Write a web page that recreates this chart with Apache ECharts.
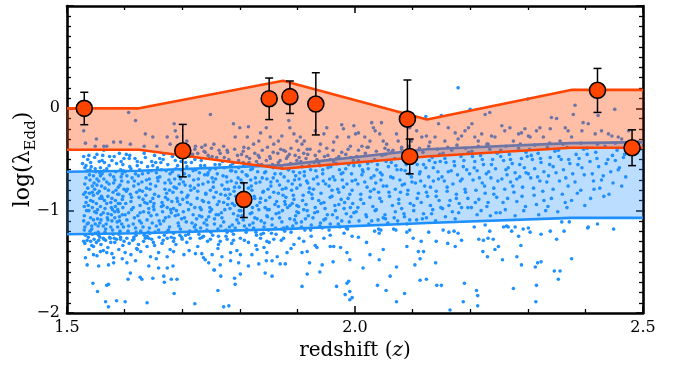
<!DOCTYPE html>
<html><head><meta charset="utf-8">
<script src="https://cdn.jsdelivr.net/npm/echarts/dist/echarts.min.js"></script>
<style>html,body{margin:0;padding:0;background:#fff}#chart{width:681px;height:367px}</style>
</head><body><div id="chart"></div>
<script>
// ---- data ----
const xTicks = [1.5, 2.0, 2.5];
const yTicks = [-2, -1, 0];
const bandZ = [1.5, 1.625, 1.875, 2.125, 2.375, 2.5];
const orangeHi = [0.0, 0.0, 0.27, -0.11, 0.18, 0.18];
const orangeLo = [-0.405, -0.405, -0.59, -0.47, -0.385, -0.385];
const blueHi = [-0.62, -0.61, -0.555, -0.40, -0.34, -0.33];
const blueLo = [-1.23, -1.22, -1.18, -1.12, -1.07, -1.07];

const ptZ = [1.530, 1.701, 1.807, 1.851, 1.887, 1.932, 2.091, 2.095, 2.421, 2.481];
const ptY = [0.00, -0.415, -0.89, 0.094, 0.114, 0.042, -0.105, -0.47, 0.176, -0.385];
const ptLo = [-0.16, -0.67, -1.067, -0.11, -0.05, -0.26, -0.45, -0.64, -0.04, -0.56];
const ptHi = [0.157, -0.157, -0.728, 0.296, 0.267, 0.348, 0.277, -0.30, 0.39, -0.21];

// sample points (z, logλ pairs)
const corePts = [
1.529,-0.47,1.541,-0.53,1.552,-0.45,1.535,-0.61,1.558,-0.58,1.546,-0.66,1.531,-0.74,1.555,-0.71,1.539,-0.83,1.548,-0.79,1.533,-0.92,1.557,-0.88,1.544,-0.97,1.530,-1.05,1.551,-1.02,1.537,-1.12,1.559,-1.09,1.543,-1.18,1.532,-1.24,1.554,-1.21,1.547,-1.28,1.536,-0.50,1.550,-0.62,1.540,-0.70,1.556,-0.81,1.534,-0.87,1.545,-0.91,1.553,-0.99,1.538,-1.00,1.549,-1.13,1.531,-1.16,1.557,-1.26,1.542,-0.57,1.552,-0.75,1.536,-0.78,1.546,-0.85,1.530,-0.96,1.559,-1.04,1.541,-1.07,1.554,-1.15,1.535,-1.29,1.548,-0.48,1.539,-0.65,1.558,-0.66,1.533,-0.56,1.544,-1.23,1.551,-0.93,1.529,-1.10,1.547,-0.73,1.537,-0.95,1.556,-0.52,1.540,-1.20,1.532,-0.82,1.553,-1.08,
1.562,-0.46,1.578,-0.51,1.591,-0.44,1.569,-0.59,1.585,-0.62,1.597,-0.55,1.564,-0.69,1.581,-0.73,1.594,-0.67,1.572,-0.80,1.588,-0.84,1.561,-0.88,1.576,-0.92,1.599,-0.79,1.566,-0.98,1.583,-1.01,1.592,-0.93,1.570,-1.07,1.587,-1.11,1.563,-1.15,1.579,-1.19,1.596,-1.04,1.574,-1.26,1.590,-1.23,1.567,-1.29,1.598,-1.16,1.582,-0.47,1.565,-0.53,1.593,-0.60,1.575,-0.65,1.560,-0.76,1.589,-0.77,1.571,-0.86,1.596,-0.89,1.584,-0.96,1.563,-1.02,1.577,-1.04,1.591,-1.10,1.568,-1.13,1.586,-1.28,1.573,-0.56,1.595,-0.71,1.580,-0.82,1.561,-0.64,1.588,-0.99,1.566,-1.21,1.599,-0.49,1.576,-1.16,1.593,-1.26,1.569,-0.93,1.583,-0.70,1.564,-0.41,1.590,-0.84,1.578,-1.10,1.597,-0.97,
1.603,-0.45,1.618,-0.49,1.634,-0.44,1.647,-0.52,1.609,-0.57,1.626,-0.60,1.641,-0.63,1.613,-0.68,1.630,-0.72,1.645,-0.74,1.605,-0.79,1.621,-0.82,1.637,-0.85,1.649,-0.88,1.611,-0.91,1.627,-0.95,1.642,-0.98,1.607,-1.02,1.623,-1.05,1.639,-1.09,1.615,-1.13,1.632,-1.16,1.648,-1.12,1.606,-1.20,1.620,-1.24,1.636,-1.27,1.644,-1.22,1.601,-0.62,1.616,-0.76,1.629,-0.53,1.643,-0.69,1.612,-0.99,1.625,-0.87,1.638,-0.78,1.650,-0.96,1.604,-1.09,1.619,-1.17,1.633,-1.01,1.646,-1.05,1.610,-0.84,1.624,-0.66,1.640,-0.57,1.608,-0.49,1.628,-1.20,1.614,-1.29,1.635,-0.92,1.647,-0.61,1.602,-0.93,1.622,-0.56,1.631,-0.81,1.617,-1.07,1.643,-1.17,1.606,-0.72,1.639,-1.25,1.626,-1.10,
1.652,-0.46,1.667,-0.50,1.683,-0.47,1.698,-0.52,1.657,-0.58,1.672,-0.61,1.689,-0.59,1.661,-0.67,1.677,-0.70,1.694,-0.66,1.654,-0.76,1.670,-0.79,1.686,-0.77,1.699,-0.82,1.659,-0.86,1.675,-0.89,1.691,-0.88,1.664,-0.96,1.680,-0.99,1.696,-0.94,1.656,-1.04,1.671,-1.07,1.688,-1.05,1.662,-1.13,1.678,-1.16,1.693,-1.12,1.653,-1.21,1.669,-1.24,1.685,-1.22,1.697,-1.18,1.663,-0.53,1.679,-0.64,1.695,-0.74,1.658,-0.71,1.673,-0.83,1.690,-1.00,1.666,-1.01,1.682,-0.91,1.651,-0.93,1.676,-1.19,1.692,-0.56,1.660,-1.10,1.687,-0.69,1.668,-0.45,1.681,-1.26,1.699,-1.08,1.655,-0.63,1.674,-0.97,1.684,-0.82,1.696,-1.24,
1.703,-0.48,1.718,-0.45,1.733,-0.51,1.747,-0.49,1.708,-0.57,1.724,-0.60,1.739,-0.56,1.712,-0.66,1.728,-0.69,1.744,-0.65,1.705,-0.75,1.721,-0.78,1.736,-0.74,1.749,-0.80,1.710,-0.85,1.726,-0.88,1.741,-0.84,1.715,-0.94,1.731,-0.97,1.746,-0.92,1.702,-1.01,1.719,-1.04,1.734,-1.06,1.748,-1.01,1.707,-1.11,1.723,-1.14,1.738,-1.12,1.713,-1.20,1.729,-1.23,1.743,-1.19,1.716,-0.53,1.730,-0.63,1.745,-0.72,1.704,-0.64,1.720,-0.70,1.737,-0.91,1.711,-0.99,1.727,-0.81,1.742,-1.09,1.706,-1.24,1.732,-1.17,1.748,-0.60,1.714,-0.76,1.740,-0.43,1.725,-1.08,1.701,-0.89,1.735,-1.26,1.722,-0.50,
1.752,-0.47,1.766,-0.44,1.781,-0.50,1.796,-0.46,1.757,-0.55,1.773,-0.58,1.788,-0.54,1.761,-0.64,1.777,-0.67,1.793,-0.62,1.754,-0.72,1.769,-0.75,1.785,-0.71,1.799,-0.77,1.759,-0.82,1.775,-0.85,1.790,-0.81,1.764,-0.91,1.779,-0.94,1.795,-0.89,1.751,-0.99,1.768,-1.02,1.783,-0.98,1.797,-1.05,1.756,-1.08,1.772,-1.11,1.787,-1.14,1.762,-1.18,1.778,-1.21,1.792,-1.17,1.753,-1.24,1.770,-0.52,1.786,-0.61,1.758,-0.69,1.774,-0.79,1.791,-0.95,1.763,-1.04,1.780,-0.88,1.798,-1.12,1.755,-0.87,1.767,-1.15,1.784,-0.56,1.794,-0.73,1.760,-0.48,1.776,-1.25,1.789,-1.03,
1.803,-0.45,1.817,-0.49,1.832,-0.46,1.846,-0.51,1.807,-0.56,1.822,-0.59,1.838,-0.55,1.811,-0.65,1.827,-0.68,1.843,-0.63,1.805,-0.73,1.820,-0.76,1.835,-0.72,1.849,-0.79,1.809,-0.83,1.825,-0.86,1.840,-0.82,1.814,-0.92,1.830,-0.95,1.845,-0.90,1.802,-1.00,1.818,-1.03,1.833,-0.99,1.848,-1.06,1.806,-1.09,1.823,-1.12,1.837,-1.10,1.812,-1.18,1.828,-1.21,1.842,-1.16,1.816,-0.53,1.831,-0.62,1.847,-0.69,1.804,-0.62,1.821,-0.80,1.836,-0.88,1.810,-0.96,1.826,-1.07,1.841,-1.22,1.808,-1.15,1.834,-0.48,1.844,-0.97,1.819,-0.70,1.829,-1.24,
1.852,-0.47,1.866,-0.44,1.881,-0.49,1.896,-0.46,1.857,-0.55,1.872,-0.58,1.888,-0.54,1.861,-0.64,1.877,-0.67,1.893,-0.62,1.854,-0.72,1.869,-0.75,1.884,-0.71,1.899,-0.78,1.859,-0.82,1.875,-0.85,1.890,-0.80,1.864,-0.91,1.879,-0.94,1.894,-0.89,1.851,-0.99,1.868,-1.02,1.883,-0.97,1.897,-1.05,1.856,-1.08,1.873,-1.11,1.887,-1.08,1.862,-1.17,1.878,-1.20,1.892,-1.15,1.870,-0.51,1.885,-0.60,1.858,-0.68,1.874,-0.79,1.891,-0.93,1.863,-1.03,1.880,-0.87,1.898,-1.12,1.855,-1.22,1.867,-0.96,1.886,-0.45,1.895,-0.70,
1.903,-0.48,1.918,-0.45,1.934,-0.50,1.947,-0.47,1.908,-0.57,1.923,-0.60,1.939,-0.56,1.912,-0.66,1.928,-0.69,1.944,-0.64,1.905,-0.75,1.921,-0.78,1.936,-0.74,1.910,-0.85,1.926,-0.88,1.941,-0.83,1.915,-0.94,1.931,-0.97,1.946,-0.92,1.902,-1.02,1.919,-1.05,1.935,-1.01,1.949,-1.08,1.907,-1.11,1.924,-1.14,1.940,-1.12,1.913,-1.19,1.929,-0.53,1.945,-0.71,1.904,-0.63,1.920,-0.82,1.937,-0.90,1.911,-0.99,1.927,-1.07,1.943,-1.17,1.916,-0.71,1.932,-0.61,1.948,-0.98,
1.953,-0.46,1.968,-0.49,1.984,-0.45,1.997,-0.51,1.958,-0.57,1.973,-0.60,1.989,-0.55,1.962,-0.67,1.978,-0.70,1.994,-0.64,1.955,-0.76,1.970,-0.79,1.986,-0.74,1.960,-0.86,1.976,-0.89,1.991,-0.84,1.965,-0.95,1.981,-0.98,1.996,-0.93,1.952,-1.04,1.969,-1.07,1.985,-1.03,1.957,-1.13,1.974,-1.16,1.990,-1.11,1.963,-0.52,1.979,-0.63,1.995,-0.80,1.956,-0.69,1.972,-0.82,1.987,-1.18,1.966,-1.00,1.982,-0.92,1.998,-1.02,
2.003,-0.47,2.018,-0.44,2.034,-0.50,2.047,-0.46,2.008,-0.56,2.023,-0.59,2.039,-0.55,2.012,-0.65,2.028,-0.68,2.044,-0.63,2.005,-0.74,2.021,-0.77,2.036,-0.73,2.010,-0.84,2.026,-0.87,2.041,-0.82,2.015,-0.93,2.031,-0.96,2.046,-0.91,2.002,-1.01,2.019,-1.04,2.035,-1.00,2.049,-1.07,2.007,-1.10,2.024,-1.13,2.040,-1.09,2.029,-0.52,2.045,-0.70,2.013,-0.60,2.033,-0.79,
2.053,-0.45,2.069,-0.49,2.084,-0.44,2.097,-0.50,2.058,-0.57,2.073,-0.60,2.089,-0.55,2.062,-0.67,2.078,-0.70,2.094,-0.64,2.055,-0.76,2.070,-0.79,2.086,-0.74,2.060,-0.86,2.076,-0.89,2.091,-0.84,2.065,-0.95,2.081,-0.98,2.096,-0.93,2.052,-1.04,2.068,-1.07,2.085,-1.03,2.057,-1.12,2.074,-1.10,2.090,-1.13,2.063,-0.53,2.079,-0.82,2.099,-0.72,
2.103,-0.46,2.118,-0.43,2.134,-0.48,2.147,-0.45,2.108,-0.55,2.123,-0.58,2.139,-0.53,2.112,-0.64,2.128,-0.67,2.144,-0.62,2.105,-0.73,2.121,-0.76,2.136,-0.71,2.110,-0.83,2.126,-0.86,2.141,-0.81,2.115,-0.92,2.131,-0.95,2.146,-0.90,2.102,-1.00,2.119,-1.03,2.135,-0.99,2.107,-1.09,2.124,-1.07,2.140,-1.10,2.129,-0.51,
2.153,-0.44,2.168,-0.41,2.184,-0.47,2.197,-0.43,2.158,-0.53,2.173,-0.56,2.189,-0.51,2.162,-0.62,2.178,-0.65,2.194,-0.60,2.155,-0.71,2.170,-0.74,2.186,-0.69,2.160,-0.81,2.176,-0.84,2.191,-0.79,2.165,-0.90,2.181,-0.93,2.196,-0.88,2.152,-0.98,2.169,-1.01,2.185,-0.97,2.157,-1.06,2.174,-1.08,
2.203,-0.42,2.218,-0.46,2.234,-0.40,2.247,-0.44,2.208,-0.52,2.223,-0.55,2.239,-0.50,2.212,-0.61,2.228,-0.64,2.244,-0.59,2.205,-0.70,2.221,-0.73,2.236,-0.68,2.210,-0.80,2.226,-0.83,2.241,-0.78,2.215,-0.89,2.231,-0.92,2.246,-0.87,2.202,-0.97,2.219,-1.00,2.235,-1.05,
2.253,-0.41,2.268,-0.45,2.284,-0.39,2.297,-0.43,2.258,-0.51,2.273,-0.54,2.289,-0.49,2.262,-0.60,2.278,-0.63,2.294,-0.58,2.255,-0.69,2.270,-0.72,2.286,-0.67,2.260,-0.79,2.276,-0.82,2.291,-0.77,2.265,-0.88,2.281,-0.91,2.296,-0.96,2.252,-1.02,
2.303,-0.40,2.318,-0.44,2.334,-0.38,2.347,-0.42,2.308,-0.50,2.323,-0.53,2.339,-0.48,2.312,-0.59,2.328,-0.62,2.344,-0.57,2.305,-0.68,2.321,-0.71,2.336,-0.66,2.310,-0.78,2.326,-0.81,2.341,-0.88,2.315,-0.94,2.331,-1.00,
2.353,-0.41,2.368,-0.38,2.384,-0.45,2.397,-0.40,2.358,-0.50,2.373,-0.54,2.389,-0.49,2.362,-0.60,2.378,-0.64,2.394,-0.58,2.355,-0.71,2.370,-0.76,2.386,-0.83,2.365,-0.92,
2.403,-0.39,2.418,-0.43,2.434,-0.37,2.447,-0.46,2.408,-0.52,2.423,-0.57,2.439,-0.50,2.412,-0.64,2.428,-0.70,2.444,-0.62,2.415,-0.79,2.432,-0.86,
2.455,-0.41,2.466,-0.48,2.472,-0.40,2.459,-0.58,2.470,-0.67,2.463,-0.76
];

const corePts2 = [
1.538,-0.46,1.527,-0.54,1.549,-0.59,1.561,-0.51,1.574,-0.47,1.586,-0.54,1.598,-0.61,1.533,-0.68,1.544,-0.76,1.557,-0.63,1.569,-0.72,1.581,-0.67,1.592,-0.75,1.529,-0.84,1.541,-0.90,1.553,-0.83,1.565,-0.90,1.578,-0.88,1.589,-0.93,1.534,-1.00,1.546,-1.09,1.558,-0.96,1.571,-1.03,1.583,-1.07,1.595,-1.13,1.530,-1.19,1.543,-1.15,1.555,-1.24,1.567,-1.18,1.580,-1.23,1.592,-1.20,1.537,-1.26,1.551,-1.31,1.563,-1.27,1.576,-1.31,1.588,-1.16,1.599,-1.30,1.540,-0.60,1.552,-0.69,1.566,-0.78,1.579,-0.99,1.591,-1.06,1.535,-1.13,1.548,-1.01,1.560,-0.86,1.573,-0.74,1.585,-0.80,1.597,-0.86,1.544,-0.82,1.557,-1.12,1.571,-1.09,1.584,-0.90,1.596,-0.64,1.531,-0.58,1.564,-0.61,1.577,-0.97,1.589,-1.01,1.549,-1.22,1.582,-1.27,1.594,-0.52,
1.609,-0.46,1.622,-0.52,1.636,-0.48,1.649,-0.56,1.661,-0.49,1.675,-0.55,1.688,-0.51,1.604,-0.66,1.617,-0.71,1.631,-0.64,1.644,-0.79,1.657,-0.68,1.670,-0.73,1.683,-0.62,1.697,-0.69,1.612,-0.87,1.626,-0.80,1.639,-0.93,1.652,-0.84,1.665,-0.92,1.678,-0.80,1.692,-0.91,1.601,-1.04,1.615,-0.97,1.629,-1.12,1.642,-1.02,1.655,-1.15,1.668,-1.10,1.681,-1.02,1.694,-1.15,1.607,-1.15,1.620,-1.21,1.634,-1.24,1.647,-1.28,1.660,-1.26,1.673,-1.21,1.686,-1.27,1.699,-1.26,1.611,-0.59,1.624,-0.74,1.638,-0.70,1.651,-0.99,1.664,-0.60,1.677,-1.06,1.690,-0.78,1.603,-0.81,1.616,-1.26,1.632,-0.89,1.645,-0.91,1.659,-1.19,1.671,-0.87,1.685,-0.98,1.698,-0.60,1.627,-1.02,1.641,-1.21,1.654,-0.53,1.667,-0.95,1.680,-0.73,1.693,-1.04,1.619,-0.64,
1.706,-0.53,1.719,-0.61,1.732,-0.56,1.745,-0.63,1.758,-0.59,1.771,-0.66,1.784,-0.61,1.797,-0.68,1.702,-0.72,1.715,-0.80,1.728,-0.75,1.741,-0.83,1.754,-0.77,1.767,-0.84,1.780,-0.79,1.793,-0.86,1.709,-0.92,1.722,-0.97,1.735,-0.90,1.748,-0.97,1.761,-0.94,1.774,-0.99,1.787,-0.93,1.799,-1.00,1.704,-1.07,1.717,-1.12,1.730,-1.05,1.743,-1.14,1.756,-1.13,1.769,-1.07,1.782,-1.16,1.795,-1.09,1.711,-1.23,1.724,-1.19,1.737,-1.25,1.750,-1.21,1.763,-1.25,1.776,-1.19,1.789,-1.23,1.713,-0.47,1.727,-0.44,1.739,-0.65,1.752,-0.68,1.765,-0.55,1.778,-0.72,1.791,-0.77,1.708,-0.87,1.733,-0.99,1.759,-1.04,1.783,-0.84,1.721,-1.16,1.746,-1.06,1.772,-0.92,1.798,-0.58,1.786,-1.20,
1.806,-0.53,1.819,-0.60,1.832,-0.55,1.845,-0.62,1.858,-0.58,1.871,-0.64,1.884,-0.60,1.897,-0.66,1.802,-0.70,1.815,-0.78,1.828,-0.73,1.841,-0.81,1.854,-0.76,1.867,-0.83,1.880,-0.78,1.893,-0.85,1.809,-0.90,1.822,-0.97,1.835,-0.92,1.848,-0.99,1.861,-0.94,1.874,-1.00,1.887,-0.95,1.899,-1.01,1.804,-1.05,1.817,-1.14,1.830,-1.08,1.843,-1.12,1.856,-1.14,1.869,-1.07,1.882,-1.16,1.895,-1.09,1.811,-1.21,1.824,-1.17,1.837,-1.23,1.850,-1.19,1.863,-1.23,1.876,-1.17,1.889,-1.21,1.813,-0.66,1.839,-0.68,1.865,-0.71,1.891,-0.74,1.826,-0.88,1.852,-0.87,1.878,-0.91,1.821,-1.02,1.847,-1.05,1.873,-1.18,1.899,-0.95,
1.906,-0.52,1.921,-0.56,1.937,-0.53,1.953,-0.58,1.968,-0.54,1.984,-0.59,1.998,-0.56,1.903,-0.69,1.918,-0.73,1.934,-0.67,1.949,-0.74,1.965,-0.70,1.980,-0.77,1.995,-0.71,1.909,-0.90,1.925,-0.84,1.941,-0.93,1.957,-0.87,1.972,-0.94,1.988,-0.88,1.902,-0.96,1.914,-1.08,1.930,-1.02,1.946,-1.09,1.961,-1.04,1.977,-1.10,1.993,-1.06,1.907,-1.16,1.923,-1.19,1.939,-1.15,1.955,-1.19,1.971,-1.13,1.985,-1.17,1.912,-0.62,1.944,-0.60,1.976,-0.64,1.928,-0.79,1.960,-0.80,1.992,-0.97,1.917,-1.00,
2.006,-0.51,2.022,-0.54,2.038,-0.60,2.054,-0.52,2.071,-0.56,2.087,-0.61,2.103,-0.51,2.119,-0.55,2.136,-0.58,2.148,-0.52,2.001,-0.70,2.017,-0.72,2.033,-0.66,2.049,-0.76,2.066,-0.68,2.082,-0.75,2.098,-0.67,2.114,-0.71,2.131,-0.77,2.145,-0.69,2.010,-0.89,2.027,-0.81,2.043,-0.88,2.059,-0.82,2.076,-0.93,2.092,-0.80,2.108,-0.88,2.124,-0.82,2.141,-0.86,2.005,-0.97,2.020,-1.06,2.037,-0.99,2.053,-1.08,2.070,-1.01,2.086,-1.06,2.102,-0.95,2.117,-1.08,2.133,-1.03,2.149,-0.97,2.014,-0.62,2.047,-0.65,2.080,-0.60,2.113,-0.62,2.029,-1.10,2.095,-1.09,
2.156,-0.49,2.172,-0.52,2.188,-0.57,2.204,-0.47,2.221,-0.50,2.237,-0.55,2.253,-0.47,2.270,-0.50,2.286,-0.55,2.299,-0.47,2.151,-0.67,2.167,-0.61,2.183,-0.71,2.199,-0.64,2.216,-0.68,2.232,-0.62,2.248,-0.71,2.264,-0.65,2.281,-0.69,2.297,-0.63,2.160,-0.77,2.176,-0.88,2.192,-0.82,2.209,-0.92,2.225,-0.76,2.241,-0.84,2.257,-0.92,2.274,-0.76,2.290,-0.86,2.163,-0.95,2.180,-1.02,2.196,-0.97,2.212,-1.04,2.229,-0.96,2.245,-1.02,2.261,-0.99,2.278,-1.05,2.293,-1.00,2.207,-0.58,2.266,-0.58,
2.306,-0.46,2.322,-0.49,2.338,-0.55,2.354,-0.47,2.371,-0.50,2.387,-0.55,2.403,-0.45,2.420,-0.49,2.436,-0.54,2.452,-0.51,2.468,-0.45,2.301,-0.64,2.317,-0.67,2.333,-0.72,2.349,-0.63,2.366,-0.68,2.382,-0.72,2.398,-0.65,2.414,-0.71,2.431,-0.66,2.448,-0.73,2.311,-0.85,2.328,-0.90,2.344,-0.79,2.360,-0.84,2.376,-0.90,2.392,-0.80,2.409,-0.88,2.425,-0.78,2.441,-0.84,2.319,-1.04,2.335,-0.96,2.352,-1.01,2.368,-0.97,2.399,-0.95,2.457,-0.60
];

const tailLow = [
1.529,-1.30,1.541,-1.30,1.543,-1.34,1.555,-1.29,1.564,-1.28,1.575,-1.27,1.593,-1.28,1.604,-1.27,1.616,-1.28,1.624,-1.33,1.642,-1.27,1.650,-1.31,1.665,-1.32,1.674,-1.27,1.685,-1.30,1.700,-1.28,1.714,-1.27,1.731,-1.27,1.749,-1.28,1.766,-1.30,1.778,-1.28,1.789,-1.29,1.801,-1.27,1.815,-1.31,1.836,-1.27,1.847,-1.30,1.859,-1.28,1.876,-1.27,1.894,-1.33,1.911,-1.30,1.931,-1.34,1.946,-1.27,1.963,-1.35,1.975,-1.36,1.995,-1.25,
1.532,-1.46,1.546,-1.43,1.558,-1.40,1.569,-1.41,1.581,-1.46,1.590,-1.38,1.601,-1.41,1.622,-1.38,1.639,-1.35,1.645,-1.45,1.659,-1.41,1.674,-1.45,1.685,-1.40,1.703,-1.43,1.723,-1.42,1.737,-1.46,1.752,-1.43,1.769,-1.45,1.784,-1.41,1.801,-1.43,1.821,-1.43,1.830,-1.38,1.847,-1.41,1.865,-1.45,1.882,-1.41,1.908,-1.41,1.917,-1.40,1.934,-1.36,1.957,-1.35,1.986,-1.41,1.991,-1.48,
1.535,-1.53,1.555,-1.54,1.572,-1.53,1.581,-1.51,1.604,-1.51,1.619,-1.49,1.642,-1.54,1.659,-1.56,1.674,-1.56,1.684,-1.54,1.740,-1.48,1.746,-1.51,1.755,-1.58,1.766,-1.53,1.784,-1.49,1.798,-1.51,1.815,-1.54,1.833,-1.52,1.846,-1.49,1.856,-1.49,1.870,-1.52,1.879,-1.52,1.921,-1.51,1.943,-1.53,1.962,-1.50,
1.545,-1.71,1.553,-1.79,1.569,-1.73,1.572,-1.72,1.606,-1.67,1.610,-1.61,1.627,-1.65,1.630,-1.67,1.649,-1.66,1.668,-1.64,1.669,-1.70,1.681,-1.67,1.691,-1.67,1.686,-1.81,1.756,-1.58,1.762,-1.78,1.767,-1.64,1.791,-1.66,1.792,-1.72,1.801,-1.62,1.844,-1.61,1.856,-1.64,1.908,-1.74,1.917,-1.62,1.939,-1.60,1.968,-1.74,1.986,-1.71,1.989,-1.69,1.983,-1.82,1.991,-1.79,1.991,-1.87,1.995,-1.85,
1.567,-1.89,1.572,-1.94,1.586,-1.88,1.601,-1.89,1.639,-1.90,1.722,-1.91,1.772,-1.94,1.781,-1.93,
2.006,-1.26,2.020,-1.31,2.026,-1.43,2.014,-1.56,2.034,-1.20,2.041,-1.18,2.042,-1.22,2.045,-1.19,2.049,-1.38,2.042,-1.48,2.039,-1.73,2.054,-1.78,2.061,-1.64,2.067,-1.18,2.071,-1.19,2.072,-1.55,2.072,-1.89,2.086,-1.81,2.090,-1.35,2.090,-1.21,2.095,-1.19,2.101,-1.27,2.104,-1.53,2.110,-1.40,2.113,-1.47,2.113,-1.68,2.115,-1.30,2.119,-1.40,2.124,-1.67,2.128,-1.21,
2.141,-1.30,2.140,-1.51,2.142,-1.73,2.150,-1.73,2.153,-1.19,2.161,-1.32,2.163,-1.21,2.165,-1.97,2.172,-1.20,2.174,-1.35,2.179,-1.22,2.185,-1.29,2.188,-1.89,2.190,-1.71,2.207,-1.16,2.211,-1.78,2.213,-1.83,2.213,-1.93,2.215,-1.28,2.222,-1.40,2.223,-1.29,2.226,-1.14,2.230,-1.45,2.231,-1.27,2.234,-1.20,2.240,-1.28,2.243,-1.38,2.249,-1.35,
2.256,-1.48,2.258,-1.16,2.263,-1.15,2.266,-1.16,2.272,-1.20,2.275,-1.76,2.278,-1.16,2.281,-1.45,2.284,-1.25,2.288,-1.34,2.289,-1.53,2.292,-1.18,2.301,-1.17,2.304,-1.21,2.313,-1.55,2.314,-1.89,2.315,-1.73,2.317,-1.51,2.323,-1.23,2.323,-1.50,2.339,-1.20,2.346,-1.59,2.350,-1.28,2.353,-1.67,2.356,-1.59,2.359,-1.11,2.363,-1.20,2.372,-1.11,2.376,-1.47,2.404,-1.17,2.405,-1.16,2.421,-1.13,2.449,-1.18,
1.531,-1.32,1.546,-1.35,1.559,-1.33,1.571,-1.36,1.583,-1.31,1.597,-1.34,1.608,-1.32,1.621,-1.37,1.633,-1.30,1.652,-1.34,1.667,-1.29,1.689,-1.33,1.708,-1.31,1.727,-1.35,1.744,-1.30,1.763,-1.33,1.786,-1.32,1.808,-1.29,1.828,-1.34,1.851,-1.31,1.872,-1.29,1.903,-1.27,1.924,-1.25,1.957,-1.24,1.981,-1.22,
1.538,-1.38,1.552,-1.44,1.563,-1.39,1.578,-1.42,1.596,-1.47,1.611,-1.43,1.628,-1.40,1.655,-1.47,1.679,-1.38,1.712,-1.39,1.734,-1.42,1.762,-1.37,1.795,-1.39,1.842,-1.36,1.889,-1.37
];

const upperPts = [
1.529,-0.22,1.532,-0.34,1.551,-0.30,1.549,-0.37,1.564,-0.37,1.569,-0.37,1.581,-0.33,1.593,-0.33,1.607,-0.04,1.619,-0.12,1.610,-0.35,1.636,-0.25,1.634,-0.37,1.649,-0.28,1.656,-0.37,1.674,-0.28,1.686,-0.15,1.688,-0.22,1.691,-0.28,1.679,-0.35,1.708,-0.32,1.723,-0.37,1.734,-0.38,1.740,-0.36,1.755,-0.35,1.749,-0.06,1.772,-0.37,1.778,-0.41,1.789,-0.15,1.792,-0.28,1.800,-0.19,1.807,-0.38,1.815,-0.18,1.813,-0.28,1.824,-0.35,1.833,-0.32,1.836,-0.24,1.846,-0.19,1.853,-0.28,1.859,-0.35,1.867,-0.32,1.873,-0.27,1.876,-0.41,1.885,-0.12,1.887,-0.19,1.894,-0.25,1.899,-0.32,1.905,-0.28,1.908,-0.35,1.912,-0.32,1.917,-0.40,1.931,-0.22,1.940,-0.35,1.946,-0.25,1.951,-0.19,1.963,-0.33,1.969,-0.28,1.977,-0.16,1.980,-0.20,1.989,-0.28,1.992,-0.37,1.998,-0.17,2.001,-0.25,
2.006,-0.24,2.012,-0.37,2.017,-0.28,2.023,-0.38,2.026,-0.32,2.029,-0.14,2.032,-0.19,2.035,-0.22,2.043,-0.25,2.046,-0.14,2.049,-0.32,2.055,-0.35,2.058,-0.41,2.064,-0.43,2.072,-0.25,2.075,-0.32,2.081,-0.38,2.095,-0.19,2.098,-0.32,2.107,-0.22,2.116,-0.28,2.124,-0.27,2.130,-0.33,2.139,-0.28,2.145,-0.15,2.150,-0.07,2.156,-0.32,2.162,-0.19,2.174,-0.24,2.179,-0.30,2.185,-0.27,2.191,-0.22,2.197,-0.19,2.200,-0.01,2.203,-0.15,2.208,-0.28,2.214,-0.32,2.220,-0.25,2.226,-0.06,2.229,-0.35,2.234,-0.04,2.237,-0.27,2.243,-0.28,2.255,-0.17,2.260,-0.22,2.269,-0.19,2.275,-0.32,2.284,-0.25,2.289,-0.24,2.295,-0.20,2.301,-0.27,2.304,-0.28,2.315,-0.22,2.321,-0.19,2.327,-0.28,2.339,-0.20,2.341,-0.09,2.350,-0.10,2.356,-0.32,2.365,-0.19,2.370,-0.22,2.376,-0.28,2.379,-0.06,2.382,0.03,2.394,-0.22,2.396,-0.14,2.405,-0.15,2.417,-0.25,2.422,-0.07,2.428,-0.22,2.440,-0.25,2.446,-0.27,2.451,-0.01,2.457,-0.28,2.463,-0.30,2.475,-0.22,2.492,-0.33,
2.179,0.20,2.123,-0.08,2.300,0.09,
1.722,-0.40,1.738,-0.42,1.751,-0.39,1.764,-0.41,1.779,-0.43,1.791,-0.40,1.806,-0.42,1.815,-0.39,1.826,-0.44,1.839,-0.41,1.848,-0.38,1.858,-0.43,1.871,-0.40,1.879,-0.42,1.889,-0.39,1.902,-0.41,1.911,-0.44,1.922,-0.40,1.938,-0.42,1.951,-0.39,1.962,-0.41,1.977,-0.43,1.988,-0.40,2.006,-0.41,2.021,-0.38,2.037,-0.42,2.052,-0.39,2.066,-0.41,2.081,-0.40,2.094,-0.37,2.112,-0.39,2.128,-0.37,2.143,-0.40,2.161,-0.38,2.177,-0.36,2.192,-0.39,2.214,-0.37,2.231,-0.35,2.262,-0.37,2.287,-0.35,2.312,-0.36,2.338,-0.34,2.361,-0.35,2.392,-0.34,2.421,-0.35,2.452,-0.34,2.476,-0.36,
1.745,-0.46,1.773,-0.48,1.798,-0.51,1.812,-0.47,1.829,-0.52,1.853,-0.49,1.867,-0.53,1.883,-0.47,1.899,-0.51,1.915,-0.49,1.931,-0.46,1.957,-0.50,1.972,-0.47,1.993,-0.48
];

// ---- build ----
function pairs(a) { const o = []; for (let i = 0; i + 1 < a.length; i += 2) o.push([a[i], a[i + 1]]); return o; }
const scatterData = pairs(corePts).concat(pairs(corePts2), pairs(tailLow), pairs(upperPts));
const FONT = 'DejaVu Serif';

function bandSeries(hi, lo, fill, z) {
  return {
    type: 'custom', z: z, silent: true, clip: true,
    data: [[bandZ[0], hi[0]]],
    renderItem: function (params, api) {
      const pts = [];
      for (let i = 0; i < bandZ.length; i++) pts.push(api.coord([bandZ[i], hi[i]]));
      for (let i = bandZ.length - 1; i >= 0; i--) pts.push(api.coord([bandZ[i], lo[i]]));
      return { type: 'polygon', shape: { points: pts }, style: { fill: fill } };
    }
  };
}
function edge(vals, color, z) {
  return { type: 'line', z: z, silent: true, symbol: 'none', data: bandZ.map((x, i) => [x, vals[i]]),
    lineStyle: { color: color, width: 2.6 } };
}
const tickStyle = { lineStyle: { color: '#000', width: 1.5 } };
const frameLine = { onZero: false, lineStyle: { color: '#000', width: 2.6 } };

const chart = echarts.init(document.getElementById('chart'), null, { renderer: 'canvas' });
chart.setOption({
  animation: false,
  backgroundColor: '#fff',
  grid: { left: 67, right: 38, top: 6, bottom: 54, containLabel: false, outerBoundsMode: 'none' },
  xAxis: [{
    type: 'value', min: xTicks[0], max: xTicks[xTicks.length - 1], interval: 0.5,
    name: 'redshift ({i|z})', nameLocation: 'middle', nameGap: 27,
    nameTextStyle: { fontFamily: FONT, fontSize: 20, color: '#000', rich: { i: { fontFamily: FONT, fontStyle: 'italic', fontSize: 20, color: '#000' } } },
    axisLine: frameLine,
    axisTick: Object.assign({ inside: true, length: 7 }, tickStyle),
    minorTick: { show: true, splitNumber: 5, length: 4, lineStyle: { color: '#000', width: 1.3 } },
    splitLine: { show: false },
    axisLabel: { fontFamily: FONT, fontSize: 16, color: '#000', margin: 7, formatter: v => v.toFixed(1) }
  }, {
    type: 'value', position: 'top', min: xTicks[0], max: xTicks[xTicks.length - 1], interval: 0.5,
    axisLine: frameLine,
    axisTick: Object.assign({ inside: true, length: 7 }, tickStyle),
    minorTick: { show: true, splitNumber: 5, length: 4, lineStyle: { color: '#000', width: 1.3 } },
    splitLine: { show: false }, axisLabel: { show: false }
  }],
  yAxis: [{
    type: 'value', min: yTicks[0], max: 1, interval: 1,
    name: '{a|log(λ}{b|Edd}{a|)}', nameLocation: 'middle', nameGap: 28, nameRotate: 90,
    nameMoveOverlap: false,
    nameTextStyle: { fontFamily: FONT, color: '#000', rich: {
      a: { fontFamily: FONT, fontSize: 22, color: '#000', verticalAlign: 'top', lineHeight: 27 },
      b: { fontFamily: FONT, fontSize: 15, color: '#000', verticalAlign: 'bottom', lineHeight: 16 } } },
    axisLine: frameLine,
    axisTick: Object.assign({ inside: true, length: 7 }, tickStyle),
    minorTick: { show: true, splitNumber: 10, length: 4, lineStyle: { color: '#000', width: 1.3 } },
    splitLine: { show: false },
    axisLabel: { fontFamily: FONT, fontSize: 16, color: '#000', margin: 7,
      formatter: v => (yTicks.indexOf(v) < 0 ? '' : (v < 0 ? '\u2212' + Math.abs(v) : String(v))) }
  }, {
    type: 'value', position: 'right', min: yTicks[0], max: 1, interval: 1,
    axisLine: frameLine,
    axisTick: Object.assign({ inside: true, length: 7 }, tickStyle),
    minorTick: { show: true, splitNumber: 10, length: 4, lineStyle: { color: '#000', width: 1.3 } },
    splitLine: { show: false }, axisLabel: { show: false }
  }],
  series: [
    bandSeries(blueHi, blueLo, 'rgba(30,144,255,0.3)', 1),
    edge(blueHi, '#1e90ff', 2),
    edge(blueLo, '#1e90ff', 2),
    { type: 'scatter', z: 3, silent: true, symbolSize: 3.6, data: scatterData,
      itemStyle: { color: '#1e90ff', opacity: 1 } },
    bandSeries(orangeHi, orangeLo, 'rgba(255,69,0,0.35)', 4),
    edge(orangeHi, '#ff4500', 5),
    edge(orangeLo, '#ff4500', 5),
    { type: 'custom', z: 6, silent: true,
      data: ptZ.map((x, i) => [x, ptLo[i], ptHi[i]]),
      encode: { x: 0, y: [1, 2] },
      renderItem: function (params, api) {
        const lo = api.coord([api.value(0), api.value(1)]);
        const hi = api.coord([api.value(0), api.value(2)]);
        const w = 4, st = { stroke: '#000', lineWidth: 1.5 };
        return { type: 'group', children: [
          { type: 'line', shape: { x1: lo[0], y1: lo[1], x2: hi[0], y2: hi[1] }, style: st },
          { type: 'line', shape: { x1: lo[0] - w, y1: lo[1], x2: lo[0] + w, y2: lo[1] }, style: st },
          { type: 'line', shape: { x1: hi[0] - w, y1: hi[1], x2: hi[0] + w, y2: hi[1] }, style: st }
        ] };
      } },
    { type: 'scatter', z: 7, silent: true, symbolSize: 16,
      data: ptZ.map((x, i) => [x, ptY[i]]),
      itemStyle: { color: '#ff4500', borderColor: '#000', borderWidth: 1.6, opacity: 1 } }
  ]
});
</script>
</body></html>
